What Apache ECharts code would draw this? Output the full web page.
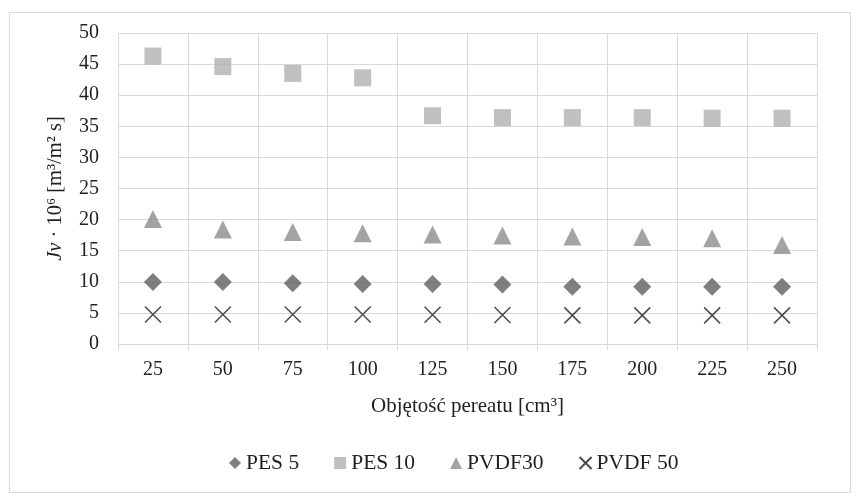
<!DOCTYPE html>
<html>
<head>
<meta charset="utf-8">
<script src="https://cdn.jsdelivr.net/npm/echarts@6/dist/echarts.min.js"></script>
<style>
html,body{margin:0;padding:0;background:#fff;}
#chart{width:856px;height:499px;}
</style>
</head>
<body>
<div id="chart"></div>
<script>
const categories = ['25','50','75','100','125','150','175','200','225','250'];
const pes5   = [9.95, 9.95, 9.75, 9.65, 9.65, 9.55, 9.2, 9.2, 9.2, 9.2];
const pes10  = [46.3, 44.6, 43.5, 42.8, 36.7, 36.4, 36.4, 36.4, 36.3, 36.3];
const pvdf30 = [20.1, 18.4, 18.0, 17.8, 17.6, 17.45, 17.3, 17.2, 17.0, 15.9];
const pvdf50 = [4.75, 4.75, 4.75, 4.75, 4.7, 4.65, 4.6, 4.6, 4.6, 4.6];
const yTicks = {min: 0, max: 50, interval: 5};

const FONT = '"Liberation Serif", "Times New Roman", serif';
const TXT = '#1f1f1f';
const GRID = '#d9d9d9';

const chart = echarts.init(document.getElementById('chart'), null, {renderer: 'canvas'});
chart.setOption({
  animation: false,
  backgroundColor: '#fff',
  textStyle: {fontFamily: FONT},
  graphic: [{
    type: 'rect', left: 7, top: 10, z: -10,
    shape: {width: 841, height: 480},
    style: {fill: 'none', stroke: GRID, lineWidth: 1}
  }],
  grid: {left: 118, right: 39, top: 33, bottom: 155},
  legend: {
    bottom: 20, left: 224,
    itemWidth: 12, itemHeight: 12, itemGap: 35,
    textStyle: {fontFamily: FONT, fontSize: 21.5, color: TXT},
    data: ['PES 5', 'PES 10', 'PVDF30', 'PVDF 50']
  },
  xAxis: {
    type: 'category', data: categories, boundaryGap: true,
    name: 'Objętość pereatu [cm³]', nameLocation: 'middle', nameGap: 52,
    nameTextStyle: {fontFamily: FONT, fontSize: 21, color: TXT},
    axisLine: {show: true, lineStyle: {color: GRID, width: 1}},
    axisTick: {show: true, length: 6, lineStyle: {color: GRID}},
    axisLabel: {fontFamily: FONT, fontSize: 20, color: TXT, margin: 16},
    splitLine: {show: true, lineStyle: {color: GRID, width: 1}}
  },
  yAxis: {
    type: 'value', min: yTicks.min, max: yTicks.max, interval: yTicks.interval,
    name: '{i|Jv} · 10⁶ [m³/m² s]', nameLocation: 'middle', nameGap: 52,
    nameTextStyle: {fontFamily: FONT, fontSize: 20.5, color: TXT,
      rich: {i: {fontStyle: 'italic', fontFamily: FONT, fontSize: 20.5, color: TXT}}},
    axisLine: {show: false}, axisTick: {show: false},
    axisLabel: {fontFamily: FONT, fontSize: 20, color: TXT, margin: 19},
    splitLine: {show: true, lineStyle: {color: GRID, width: 1}}
  },
  series: [
    {name: 'PES 5', type: 'scatter', data: pes5, symbol: 'diamond', symbolSize: 18,
     itemStyle: {color: '#5f5f5f'}},
    {name: 'PES 10', type: 'scatter', data: pes10, symbol: 'rect', symbolSize: 17,
     itemStyle: {color: '#b0b0b0'}},
    {name: 'PVDF30', type: 'scatter', data: pvdf30, symbol: 'triangle', symbolSize: 18,
     itemStyle: {color: '#8c8c8c'}},
    {name: 'PVDF 50', type: 'scatter', data: pvdf50, symbol: 'path://M0,0L10,10M10,0L0,10', symbolSize: 16,
     itemStyle: {color: 'transparent', borderColor: '#1f1f1f', borderWidth: 1.5}}
  ]
});
</script>
</body>
</html>
